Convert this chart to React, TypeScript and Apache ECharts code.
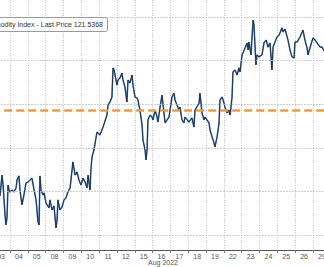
import React, { useEffect, useRef } from "react";
import * as echarts from "echarts";

// Trading days shown on the axis (Aug 2022)
const days = ["03", "04", "05", "08", "09", "10", "11", "12", "15", "16", "17", "18", "19", "22", "23", "24", "25", "26", "29", "30"];
const monthLabel = "Aug 2022";
const gridLevels = [116, 118, 120, 122, 124, 126];
const refLevel = 121.7;
const legendText = "Bloomberg Commodity Index - Last Price 121.5368";

// [session position in trading days from Aug 03 open, index level]
const priceSeries: [number, number][] = [
  [0.44, 117.79], [0.55, 118.75], [0.61, 118.29], [0.72, 116.92], [0.77, 116.46], [0.83, 116.78], [0.89, 118.29], [0.94, 118.06],
  [1.0, 117.97], [1.11, 118.06], [1.22, 117.97], [1.34, 118.16], [1.39, 118.52], [1.5, 118.71], [1.56, 118.06], [1.67, 117.38],
  [1.78, 117.83], [1.9, 118.39], [2.01, 118.43], [2.12, 118.52], [2.23, 118.61], [2.35, 118.06], [2.46, 117.61], [2.57, 116.6],
  [2.63, 116.46], [2.68, 118.71], [2.74, 118.06], [2.85, 117.83], [2.91, 117.93], [3.02, 117.47], [3.08, 117.38], [3.19, 117.24],
  [3.24, 117.61], [3.36, 117.15], [3.47, 117.33], [3.58, 116.32], [3.64, 116.69], [3.69, 117.61], [3.8, 117.15], [3.92, 117.28],
  [4.03, 117.61], [4.14, 117.7], [4.25, 117.97], [4.37, 118.16], [4.42, 118.52], [4.53, 119.35], [4.65, 118.75], [4.76, 118.89],
  [4.87, 118.52], [4.98, 118.29], [5.1, 118.61], [5.21, 118.43], [5.32, 118.16], [5.38, 118.75], [5.49, 118.06], [5.54, 118.98],
  [5.6, 119.58], [5.71, 119.9], [5.88, 120.72], [6.05, 120.59], [6.22, 120.95], [6.44, 121.5], [6.5, 121.96], [6.61, 122.1],
  [6.72, 122.33], [6.78, 123.66], [6.84, 123.57], [7.0, 122.88], [7.06, 123.11], [7.17, 123.2], [7.28, 123.43], [7.34, 123.11],
  [7.45, 122.79], [7.56, 122.1], [7.62, 123.11], [7.73, 122.97], [7.85, 123.34], [7.9, 122.88], [8.01, 122.33], [8.13, 122.28],
  [8.18, 122.19], [8.29, 121.73], [8.41, 121.05], [8.46, 120.36], [8.58, 119.9], [8.63, 119.44], [8.69, 119.9], [8.74, 121.28],
  [8.86, 121.5], [8.97, 121.41], [9.02, 121.28], [9.14, 121.73], [9.25, 121.41], [9.3, 121.18], [9.42, 121.87], [9.53, 122.42],
  [9.7, 121.14], [9.92, 121.41], [10.09, 122.33], [10.2, 122.51], [10.26, 122.19], [10.48, 121.73], [10.54, 121.87], [10.65, 121.28],
  [10.76, 121.14], [10.82, 121.41], [11.04, 121.18], [11.21, 121.37], [11.32, 120.95], [11.38, 121.73], [11.61, 122.05], [11.66, 122.51],
  [11.77, 121.6], [11.89, 121.28], [11.94, 121.41], [12.17, 121.14], [12.22, 120.82], [12.34, 120.5], [12.45, 120.22], [12.5, 120.04],
  [12.62, 120.5], [12.73, 121.14], [12.78, 122.19], [12.9, 122.33], [13.01, 122.05], [13.06, 121.87], [13.18, 121.6], [13.29, 121.73],
  [13.35, 121.5], [13.46, 122.33], [13.51, 123.48], [13.63, 123.57], [13.74, 123.34], [13.85, 123.66], [13.91, 123.48], [14.02, 124.26],
  [14.07, 124.35], [14.19, 124.58], [14.3, 124.81], [14.36, 124.49], [14.41, 124.85], [14.52, 124.26], [14.64, 125.86], [14.69, 125.63],
  [14.8, 123.8], [14.86, 124.26], [14.97, 124.17], [15.14, 124.26], [15.25, 124.81], [15.37, 124.94], [15.48, 124.62], [15.59, 124.81],
  [15.7, 123.57], [15.76, 124.62], [15.98, 125.08], [16.1, 125.17], [16.26, 125.5], [16.32, 125.31], [16.43, 125.45], [16.6, 124.94],
  [16.71, 124.49], [16.82, 124.17], [16.94, 124.12], [16.99, 124.85], [17.11, 124.85], [17.27, 125.08], [17.44, 125.4], [17.55, 124.94],
  [17.67, 124.58], [17.72, 124.26], [17.83, 124.58], [18.0, 125.04], [18.12, 124.94], [18.23, 124.81], [18.4, 124.62], [18.51, 124.62],
  [18.62, 124.44],
];

export default function App() {
  const ref = useRef<HTMLDivElement>(null);
  useEffect(() => {
    if (!ref.current) return;
    const chart = echarts.init(ref.current, undefined, { renderer: "svg" });
    const font = "Liberation Sans";
    chart.setOption({
      animation: false,
      backgroundColor: "#ffffff",
      grid: { left: 22.2, right: 21.4, top: 0, bottom: 17, containLabel: false },
      xAxis: [
        {
          type: "category",
          data: days,
          boundaryGap: true,
          axisLine: { show: true, lineStyle: { color: "#555", width: 1 } },
          axisTick: { show: true, length: 3, lineStyle: { color: "#777" } },
          axisLabel: { color: "#555", fontSize: 7, fontFamily: font, margin: 3 },
          splitLine: { show: true, lineStyle: { color: "#bdbdbd", type: [1, 1.5], width: 1 } },
        },
        { type: "value", min: 0, max: 20, show: false },
      ],
      yAxis: { type: "value", min: 115.31, max: 126.78, show: false, splitLine: { show: false } },
      graphic: [
        {
          type: "rect",
          shape: { x: 0, y: 17.5, width: 137.5, height: 14, r: 2 },
          style: { fill: "#ffffff", stroke: "#9a9a9a", lineWidth: 1 },
          z: 100,
        },
        {
          type: "text",
          x: 133,
          y: 24.8,
          style: { text: legendText, align: "right", verticalAlign: "middle", fontSize: 7, fontFamily: font, fill: "#333" },
          z: 101,
        },
        {
          type: "text",
          x: 193,
          y: 262,
          style: { text: monthLabel, align: "center", verticalAlign: "middle", fontSize: 7, fontFamily: font, fill: "#555" },
          z: 101,
        },
      ],
      series: [
        {
          type: "line",
          xAxisIndex: 1,
          data: priceSeries,
          symbol: "none",
          lineStyle: { opacity: 0 },
          z: 1,
          silent: true,
          markLine: {
            silent: true,
            symbol: ["none", "none"],
            label: { show: false },
            lineStyle: { color: "#bdbdbd", type: [1.5, 1.5], width: 1 },
            data: gridLevels.map((v) => ({ yAxis: v })),
          },
        },
        {
          type: "line",
          xAxisIndex: 1,
          data: priceSeries,
          symbol: "none",
          lineStyle: { color: "#4f86c6", width: 1.6 },
          z: 2,
        },
        {
          type: "line",
          xAxisIndex: 1,
          data: priceSeries,
          symbol: "none",
          lineStyle: { color: "#16202e", width: 0.8 },
          z: 3,
        },
        {
          type: "line",
          xAxisIndex: 1,
          data: priceSeries,
          symbol: "none",
          lineStyle: { opacity: 0 },
          z: 4,
          silent: true,
          markLine: {
            silent: true,
            symbol: ["none", "none"],
            label: { show: false },
            lineStyle: { color: "#f39a2e", type: [8, 4], width: 2.6 },
            data: [{ yAxis: refLevel }],
          },
        },
      ],
    });
    return () => chart.dispose();
  }, []);
  return (
    <div style={{ position: "fixed", left: 0, top: 0, width: 324, height: 267, overflow: "hidden", background: "#fff" }}>
      <div ref={ref} style={{ position: "absolute", left: -30, top: 0, width: 400, height: 267 }} />
    </div>
  );
}
